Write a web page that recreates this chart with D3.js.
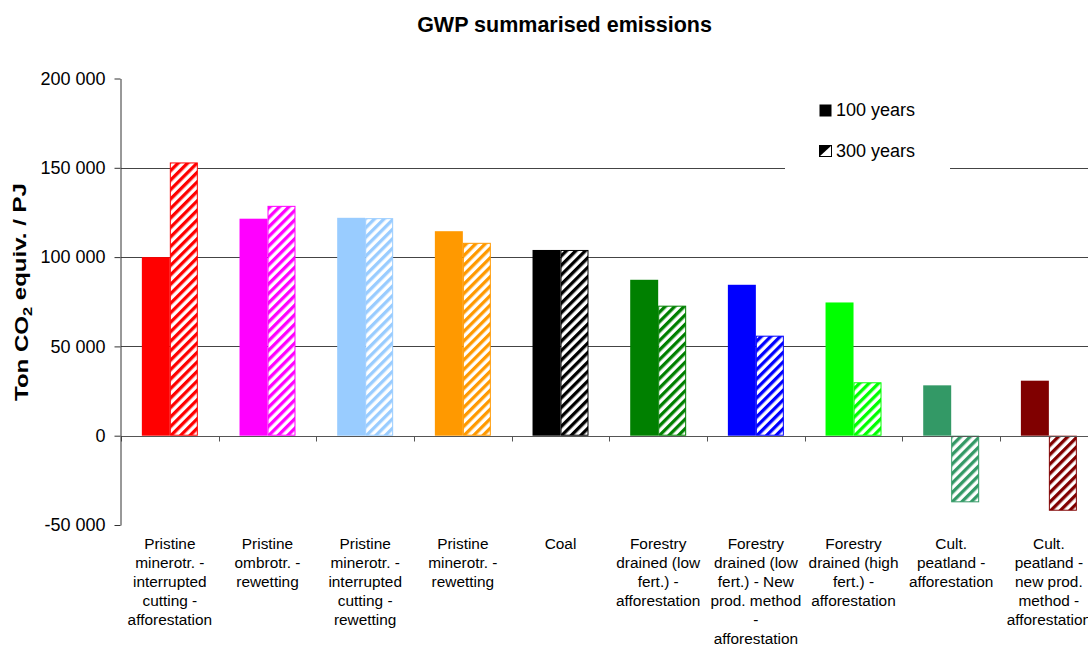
<!DOCTYPE html>
<html>
<head>
<meta charset="utf-8">
<script src="https://cdn.jsdelivr.net/npm/d3@7"></script>
<style>
  body { margin: 0; background: #fff; }
  svg { display: block; }
  text { font-family: "Liberation Sans", Arial, sans-serif; fill: #000; }
</style>
</head>
<body>
<svg id="chart" width="1088" height="645"></svg>
<script>
// Category labels (line breaks as shown under the axis)
const categories = [
  "Pristine\nminerotr. -\ninterrupted\ncutting -\nafforestation",
  "Pristine\nombrotr. -\nrewetting",
  "Pristine\nminerotr. -\ninterrupted\ncutting -\nrewetting",
  "Pristine\nminerotr. -\nrewetting",
  "Coal",
  "Forestry\ndrained (low\nfert.) -\nafforestation",
  "Forestry\ndrained (low\nfert.) - New\nprod. method\n-\nafforestation",
  "Forestry\ndrained (high\nfert.) -\nafforestation",
  "Cult.\npeatland -\nafforestation",
  "Cult.\npeatland -\nnew prod.\nmethod -\nafforestation"
];
const seriesNames = ["100 years", "300 years"];
// Ton CO2 equiv. per PJ
const gwp100 = [100000, 121500, 122000, 114500, 104000, 87300, 84500, 74600, 28200, 30800];
const gwp300 = [153000, 128700, 121800, 108000, 104000, 72800, 56000, 29900, -37300, -42000];
const barColors = ["#FF0000", "#FF00FF", "#99CCFF", "#FF9900", "#000000",
                   "#008000", "#0000FF", "#00FF00", "#339966", "#800000"];
const yTicks = [-50000, 0, 50000, 100000, 150000, 200000];
const gridTicks = [50000, 100000, 150000];

const svg = d3.select("#chart");

const x = d3.scaleBand().domain(d3.range(categories.length)).range([121, 1097.7]).padding(0);
const xs = d3.scaleBand().domain([0, 1]).range([0, x.bandwidth()]).paddingInner(0).paddingOuter(0.745);
const y = d3.scaleLinear().domain([-50000, 200000]).range([525, 78.5]);

const fmt = d3.formatLocale({ decimal: ",", thousands: " ", grouping: [3], currency: ["", ""], minus: "-" }).format(",d");

// hatch patterns for the 300-year series
const defs = svg.append("defs");
barColors.forEach((c, i) => {
  const p = defs.append("pattern")
    .attr("id", "hatch" + i)
    .attr("patternUnits", "userSpaceOnUse")
    .attr("width", 6.7).attr("height", 6.7)
    .attr("patternTransform", "rotate(45)");
  p.append("rect").attr("width", 6.7).attr("height", 6.7).attr("fill", "#fff");
  p.append("rect").attr("width", 3.3).attr("height", 6.7).attr("fill", c);
});

// title
svg.append("text")
  .attr("x", 564.5).attr("y", 31.7)
  .attr("text-anchor", "middle")
  .style("font-size", "21.5px").style("font-weight", "bold")
  .text("GWP summarised emissions");

// gridlines
svg.append("g").selectAll("line").data(gridTicks).join("line")
  .attr("x1", 121).attr("x2", 1100)
  .attr("y1", d => Math.round(y(d)) + 0.5).attr("y2", d => Math.round(y(d)) + 0.5)
  .attr("stroke", "#444").attr("stroke-width", 1);

// legend background
svg.append("rect").attr("x", 785).attr("y", 88).attr("width", 165).attr("height", 90).attr("fill", "#fff");

// bars
const groups = svg.append("g").selectAll("g").data(categories).join("g")
  .attr("transform", (d, i) => `translate(${x(i)},0)`);

groups.append("rect")
  .attr("x", xs(0)).attr("width", xs.bandwidth())
  .attr("y", (d, i) => y(Math.max(0, gwp100[i])))
  .attr("height", (d, i) => Math.abs(y(gwp100[i]) - y(0)))
  .attr("fill", (d, i) => barColors[i]);

groups.append("rect")
  .attr("x", xs(1) + 0.5).attr("width", xs.bandwidth() - 1)
  .attr("y", (d, i) => y(Math.max(0, gwp300[i])) + 0.5)
  .attr("height", (d, i) => Math.abs(y(gwp300[i]) - y(0)) - 1)
  .attr("fill", (d, i) => `url(#hatch${i})`)
  .attr("stroke", (d, i) => barColors[i]).attr("stroke-width", 1);

// category axis at zero
const y0 = Math.round(y(0)) + 0.5;
svg.append("line").attr("x1", 121).attr("x2", 1100).attr("y1", y0).attr("y2", y0)
  .attr("stroke", "#555").attr("stroke-width", 1);
svg.append("g").selectAll("line").data(d3.range(categories.length + 1)).join("line")
  .attr("x1", i => Math.round(121 + x.step() * i) + 0.5)
  .attr("x2", i => Math.round(121 + x.step() * i) + 0.5)
  .attr("y1", y0).attr("y2", y0 + 5)
  .attr("stroke", "#555").attr("stroke-width", 1);

// category labels
const labels = svg.append("g").selectAll("text").data(categories).join("text")
  .attr("text-anchor", "middle")
  .style("font-size", "15.4px");
labels.each(function (d, i) {
  const t = d3.select(this);
  d.split("\n").forEach((line, k) => {
    t.append("tspan")
      .attr("x", x(i) + x.bandwidth() / 2)
      .attr("y", 549 + k * 19)
      .text(line);
  });
});

// value axis
const yAxis = svg.append("g")
  .attr("transform", "translate(120.5,0)")
  .call(d3.axisLeft(y).tickValues(yTicks).tickSize(6).tickSizeOuter(0).tickPadding(9).tickFormat(fmt));
yAxis.select(".domain").attr("stroke", "#333");
yAxis.selectAll(".tick line").attr("stroke", "#333");
yAxis.selectAll(".tick text")
  .style("font-size", "18px")
  .style("font-family", "'Liberation Sans', Arial, sans-serif")
  .attr("fill", "#000");

// value axis title
const yt = svg.append("text")
  .attr("transform", "translate(28,292) rotate(-90)")
  .attr("text-anchor", "middle")
  .attr("textLength", 218)
  .attr("lengthAdjust", "spacingAndGlyphs")
  .style("font-size", "18.5px").style("font-weight", "bold");
yt.append("tspan").text("Ton CO");
yt.append("tspan").attr("dy", "0.3em").style("font-size", "12.5px").text("2");
yt.append("tspan").attr("dy", "-0.3em").text(" equiv. / PJ");

// legend
const legend = svg.append("g");
legend.append("rect").attr("x", 819.5).attr("y", 104.5).attr("width", 12).attr("height", 12).attr("fill", "#000");
legend.append("rect").attr("x", 819.5).attr("y", 145.5).attr("width", 12).attr("height", 11)
  .attr("fill", "#fff").attr("stroke", "#000");
legend.append("path").attr("d", "M819.5,145.5 H831.5 L819.5,156.5 Z").attr("fill", "#000");
legend.selectAll("text.lg").data(seriesNames).join("text")
  .attr("class", "lg")
  .attr("x", 836).attr("y", (d, i) => i === 0 ? 115.7 : 157.3)
  .style("font-size", "18px")
  .text(d => d);
</script>
</body>
</html>
